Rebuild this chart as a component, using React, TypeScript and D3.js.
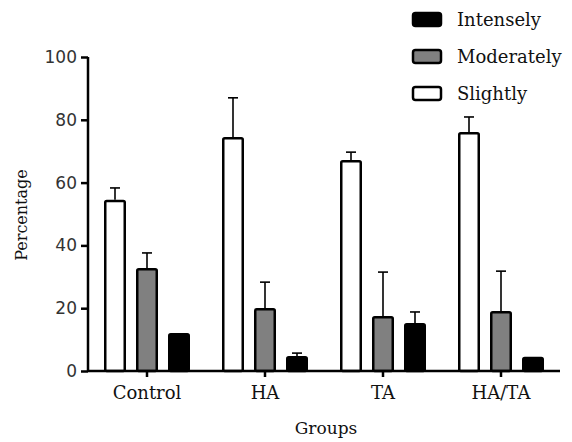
import { useEffect, useRef } from "react";
import * as d3 from "d3";

const groups = ["Control", "HA", "TA", "HA/TA"];
const series = ["Slightly", "Moderately", "Intensely"];
const legendOrder = ["Intensely", "Moderately", "Slightly"];
const yTicks = [0, 20, 40, 60, 80, 100];

const slightly = [54.5, 74.5, 67.2, 76.1];
const slightlyErr = [3.8, 12.5, 2.5, 4.8];
const moderately = [32.8, 20.1, 17.5, 19.1];
const moderatelyErr = [4.8, 8.2, 14.0, 12.7];
const intensely = [12.1, 4.8, 15.3, 4.5];
const intenselyErr = [0, 0.9, 3.5, 0];

const fills = { Slightly: "#ffffff", Moderately: "#808080", Intensely: "#000000" };

const App = () => {
    const svgRef = useRef(null);

    useEffect(() => {
        document.body.style.margin = "0";
        const svg = d3.select(svgRef.current);
        svg.selectAll("*").remove();

        const rows = groups.flatMap((g, i) => [
            { group: g, key: "Slightly", value: slightly[i], err: slightlyErr[i] },
            { group: g, key: "Moderately", value: moderately[i], err: moderatelyErr[i] },
            { group: g, key: "Intensely", value: intensely[i], err: intenselyErr[i] },
        ]);

        const x0 = d3.scaleBand().domain(groups).range([88, 560]);
        const x1 = d3.scaleBand().domain(series).range([-48, 48]).paddingInner(0.3125).paddingOuter(0.15625);
        const y = d3.scaleLinear().domain([0, 100]).range([371, 57]);
        const cx = (g) => x0(g) + x0.bandwidth() / 2;
        const sw = 2.5;
        const ink = "#111";

        // error bars (drawn first so bars cover the stem)
        const errG = svg.append("g").attr("stroke", "black").attr("stroke-width", 1.6);
        rows.filter((d) => d.err > 0).forEach((d) => {
            const mid = cx(d.group) + x1(d.key) + x1.bandwidth() / 2;
            errG.append("line").attr("x1", mid).attr("x2", mid).attr("y1", y(d.value)).attr("y2", y(d.value + d.err));
            errG.append("line").attr("x1", mid - 5).attr("x2", mid + 5).attr("y1", y(d.value + d.err)).attr("y2", y(d.value + d.err));
        });

        svg.append("g")
            .selectAll("rect")
            .data(rows)
            .join("rect")
            .attr("x", (d) => cx(d.group) + x1(d.key) + sw / 2)
            .attr("y", (d) => y(d.value) + sw / 2)
            .attr("width", x1.bandwidth() - sw)
            .attr("height", (d) => y(0) - y(d.value) - sw / 2)
            .attr("rx", 1.5)
            .attr("fill", (d) => fills[d.key])
            .attr("stroke", "black")
            .attr("stroke-width", sw);

        // y axis
        const yAxis = svg.append("g").attr("transform", "translate(88,0)")
            .call(d3.axisLeft(y).tickValues(yTicks).tickSize(7).tickPadding(4));
        yAxis.select(".domain").attr("stroke-width", 2.5).attr("d", `M0,${y(100)}V${y(0)}`);
        yAxis.selectAll(".tick line").attr("stroke-width", 2.5);
        yAxis.selectAll(".tick text")
            .attr("font-family", "DejaVu Sans")
            .attr("font-size", 17)
            .attr("fill", "#333");

        // x axis
        const xAxis = svg.append("g").attr("transform", `translate(0,${y(0)})`)
            .call(d3.axisBottom(x0).tickSize(6).tickPadding(9));
        xAxis.select(".domain").attr("stroke-width", 2.5).attr("d", "M88,0H560");
        xAxis.selectAll(".tick line").attr("stroke-width", 2.5);
        xAxis.selectAll(".tick text")
            .attr("font-family", "DejaVu Serif")
            .attr("font-size", 18)
            .attr("fill", ink);

        svg.append("text")
            .attr("x", 326).attr("y", 434)
            .attr("text-anchor", "middle")
            .attr("font-family", "DejaVu Serif").attr("font-size", 17)
            .attr("fill", ink)
            .text("Groups");

        svg.append("text")
            .attr("transform", "translate(27,215) rotate(-90)")
            .attr("text-anchor", "middle")
            .attr("font-family", "DejaVu Serif").attr("font-size", 16)
            .attr("fill", ink)
            .text("Percentage");

        // legend
        const legend = svg.append("g")
            .selectAll("g")
            .data(legendOrder)
            .join("g")
            .attr("transform", (d, i) => `translate(412, ${12 + i * 37})`);
        legend.append("rect")
            .attr("x", 1).attr("y", 1)
            .attr("width", 28).attr("height", 13)
            .attr("rx", 2.5)
            .attr("fill", (d) => fills[d])
            .attr("stroke", "black").attr("stroke-width", 2.5);
        legend.append("text")
            .attr("x", 45).attr("y", 14)
            .attr("font-family", "DejaVu Serif").attr("font-size", 18)
            .attr("fill", ink)
            .text((d) => d);
    }, []);

    return <svg ref={svgRef} width={572} height={442} style={{ display: "block", background: "#fff" }}></svg>;
};

export default App;
